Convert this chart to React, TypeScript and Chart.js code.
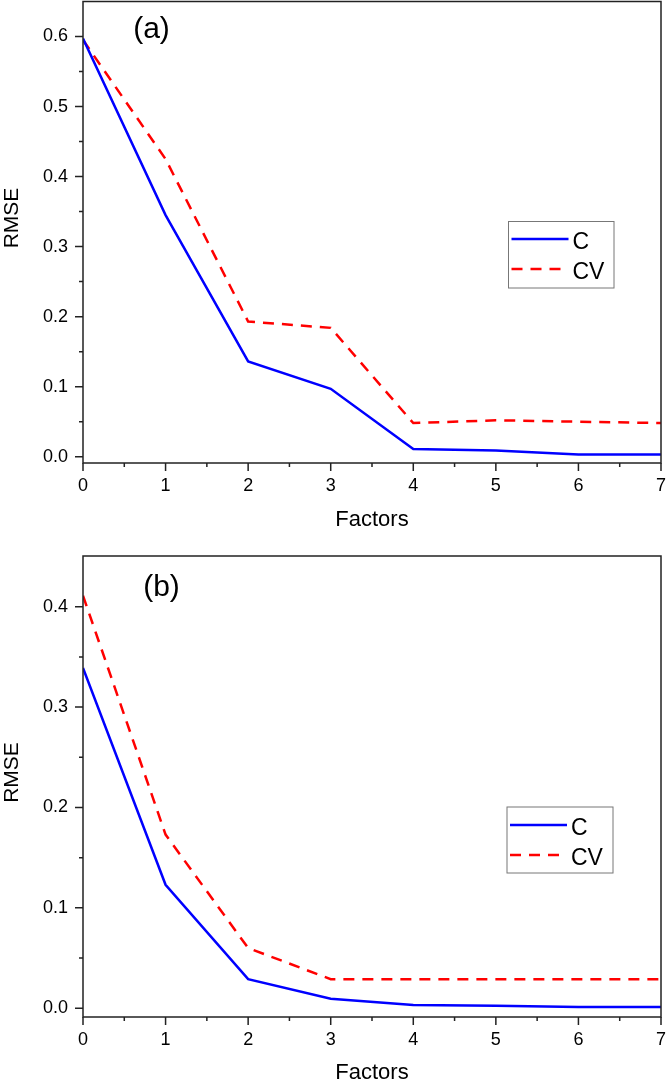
import React, { useEffect, useRef } from 'react';
import { Chart, registerables } from 'chart.js';

Chart.register(...registerables);

// ---------- data ----------
const factors = [0, 1, 2, 3, 4, 5, 6, 7];
const seriesNames = ['C', 'CV'];

const cA = [0.597, 0.345, 0.136, 0.097, 0.011, 0.009, 0.003, 0.003];
const cvA = [0.595, 0.425, 0.193, 0.184, 0.048, 0.052, 0.05, 0.048];

const cB = [0.339, 0.123, 0.029, 0.0095, 0.0033, 0.0026, 0.0013, 0.0013];
const cvB = [0.411, 0.173, 0.06, 0.029, 0.029, 0.029, 0.029, 0.029];

const xTickValues = [0, 1, 2, 3, 4, 5, 6, 7];
const xTickLabels = ['0', '1', '2', '3', '4', '5', '6', '7'];
const yTickValuesA = [0, 0.1, 0.2, 0.3, 0.4, 0.5, 0.6];
const yTickLabelsA = ['0.0', '0.1', '0.2', '0.3', '0.4', '0.5', '0.6'];
const yTickValuesB = [0, 0.1, 0.2, 0.3, 0.4];
const yTickLabelsB = ['0.0', '0.1', '0.2', '0.3', '0.4'];

const xTitle = 'Factors';
const yTitle = 'RMSE';
const panelLabels = ['(a)', '(b)'];

// ---------- layout / style ----------
const FONT = '"Liberation Sans", Arial, Helvetica, sans-serif';
const BLUE = '#0000FF';
const RED = '#FF0000';
const AXIS = '#222222';

type Panel = {
  label: string;
  c: number[];
  cv: number[];
  yVals: number[];
  yLabels: string[];
  yMin: number;
  yMax: number;
  canvasH: number;
  padTop: number;
  areaBottom: number;
  xTitleBaseline: number;
  yTitleCenter: number;
  labelX: number;
  labelBaseline: number;
  legend: { x0: number; y0: number; x1: number; y1: number; row1: number; row2: number };
};

const panels: Panel[] = [
  {
    label: panelLabels[0],
    c: cA,
    cv: cvA,
    yVals: yTickValuesA,
    yLabels: yTickLabelsA,
    yMin: -0.009,
    yMax: 0.65,
    canvasH: 540,
    padTop: 1.5,
    areaBottom: 463,
    xTitleBaseline: 526,
    yTitleCenter: 218,
    labelX: 151.5,
    labelBaseline: 38,
    legend: { x0: 508.5, y0: 221.5, x1: 614, y1: 288, row1: 239, row2: 269 },
  },
  {
    label: panelLabels[1],
    c: cB,
    cv: cvB,
    yVals: yTickValuesB,
    yLabels: yTickLabelsB,
    yMin: -0.0087,
    yMax: 0.4505,
    canvasH: 542,
    padTop: 16,
    areaBottom: 477,
    xTitleBaseline: 539,
    yTitleCenter: 232.5,
    labelX: 161.5,
    labelBaseline: 56,
    legend: { x0: 507, y0: 267, x1: 613, y1: 333, row1: 285, row2: 315 },
  },
];

function midpoints(vals: number[]): number[] {
  const out: number[] = [];
  for (let i = 0; i < vals.length - 1; i++) out.push((vals[i] + vals[i + 1]) / 2);
  return out;
}

function makeFramePlugin(p: Panel) {
  return {
    id: 'frame',
    afterDraw(chart: any) {
      const { ctx, chartArea: a, scales } = chart;
      const x = scales.x;
      const y = scales.y;
      ctx.save();
      // frame box
      ctx.strokeStyle = AXIS;
      ctx.lineWidth = 1.5;
      ctx.strokeRect(a.left, a.top, a.right - a.left, a.bottom - a.top);
      // ticks
      ctx.beginPath();
      p.yVals.forEach((v) => {
        const py = y.getPixelForValue(v);
        ctx.moveTo(a.left - 8, py);
        ctx.lineTo(a.left, py);
      });
      midpoints(p.yVals).forEach((v) => {
        const py = y.getPixelForValue(v);
        ctx.moveTo(a.left - 4, py);
        ctx.lineTo(a.left, py);
      });
      xTickValues.forEach((v) => {
        const px = x.getPixelForValue(v);
        ctx.moveTo(px, a.bottom);
        ctx.lineTo(px, a.bottom + 8);
      });
      midpoints(xTickValues).forEach((v) => {
        const px = x.getPixelForValue(v);
        ctx.moveTo(px, a.bottom);
        ctx.lineTo(px, a.bottom + 4);
      });
      ctx.stroke();

      ctx.fillStyle = '#000';
      // x title
      ctx.font = `22px ${FONT}`;
      ctx.textAlign = 'center';
      ctx.textBaseline = 'alphabetic';
      ctx.fillText(xTitle, (a.left + a.right) / 2, p.xTitleBaseline);
      // y title
      ctx.save();
      ctx.translate(17.5, p.yTitleCenter);
      ctx.rotate(-Math.PI / 2);
      ctx.font = `21px ${FONT}`;
      ctx.fillText(yTitle, 0, 0);
      ctx.restore();
      // panel label
      ctx.font = `30px ${FONT}`;
      ctx.fillText(p.label, p.labelX, p.labelBaseline);

      // legend
      const L = p.legend;
      ctx.strokeStyle = '#777';
      ctx.lineWidth = 1;
      ctx.strokeRect(L.x0, L.y0, L.x1 - L.x0, L.y1 - L.y0);
      const rows = [L.row1, L.row2];
      chart.data.datasets.forEach((ds: any, i: number) => {
        const ry = rows[i];
        ctx.save();
        ctx.strokeStyle = ds.borderColor;
        ctx.lineWidth = ds.borderWidth;
        ctx.setLineDash(ds.borderDash || []);
        ctx.beginPath();
        ctx.moveTo(L.x0 + 3, ry);
        ctx.lineTo(L.x0 + 60, ry);
        ctx.stroke();
        ctx.restore();
        ctx.font = `23px ${FONT}`;
        ctx.textAlign = 'left';
        ctx.fillText(ds.label, L.x0 + 64, ry + 9.5);
      });
      ctx.restore();
    },
  };
}

function PanelChart({ p }: { p: Panel }) {
  const ref = useRef<HTMLCanvasElement | null>(null);
  useEffect(() => {
    if (!ref.current) return;
    const xHeight = p.canvasH - p.areaBottom;
    const chart = new Chart(ref.current, {
      type: 'line',
      data: {
        labels: factors,
        datasets: [
          {
            label: seriesNames[0],
            data: factors.map((f, i) => ({ x: f, y: p.c[i] })),
            borderColor: BLUE,
            backgroundColor: BLUE,
            borderWidth: 2.5,
            pointRadius: 0,
            tension: 0,
            fill: false,
          },
          {
            label: seriesNames[1],
            data: factors.map((f, i) => ({ x: f, y: p.cv[i] })),
            borderColor: RED,
            backgroundColor: RED,
            borderWidth: 2.5,
            borderDash: [11, 8],
            pointRadius: 0,
            tension: 0,
            fill: false,
          },
        ],
      },
      options: {
        responsive: false,
        animation: false,
        devicePixelRatio: 1,
        layout: { padding: { top: p.padTop, right: 5, left: 0, bottom: 0 } },
        plugins: { legend: { display: false }, tooltip: { enabled: false }, title: { display: false } },
        scales: {
          x: {
            type: 'linear',
            min: 0,
            max: 7,
            grid: { display: false, drawTicks: false },
            border: { display: false },
            afterBuildTicks: (s: any) => {
              const vals = [...xTickValues, ...midpoints(xTickValues)].sort((a, b) => a - b);
              s.ticks = vals.map((v) => ({ value: v }));
            },
            afterFit: (s: any) => {
              s.height = xHeight;
              s.paddingLeft = 0;
              s.paddingRight = 0;
            },
            ticks: {
              autoSkip: false,
              maxRotation: 0,
              minRotation: 0,
              padding: 12,
              color: '#000',
              font: { family: FONT, size: 18 },
              callback: (v: any) => {
                const i = xTickValues.findIndex((t) => Math.abs(t - Number(v)) < 1e-6);
                return i >= 0 ? xTickLabels[i] : '';
              },
            },
          },
          y: {
            type: 'linear',
            min: p.yMin,
            max: p.yMax,
            grid: { display: false, drawTicks: false },
            border: { display: false },
            afterBuildTicks: (s: any) => {
              const vals = [...p.yVals, ...midpoints(p.yVals)].sort((a, b) => a - b);
              s.ticks = vals.map((v) => ({ value: v }));
            },
            afterFit: (s: any) => {
              s.width = 83;
              s.paddingTop = 0;
              s.paddingBottom = 0;
            },
            ticks: {
              autoSkip: false,
              padding: 15,
              color: '#000',
              font: { family: FONT, size: 18 },
              callback: (v: any) => {
                const i = p.yVals.findIndex((t) => Math.abs(t - Number(v)) < 1e-6);
                return i >= 0 ? p.yLabels[i] : '';
              },
            },
          },
        },
      },
      plugins: [makeFramePlugin(p)],
    } as any);
    return () => chart.destroy();
  }, [p]);
  return <canvas ref={ref} width={666} height={p.canvasH} style={{ display: 'block', width: 666, height: p.canvasH }} />;
}

export default function App() {
  return (
    <div style={{ position: 'absolute', left: 0, top: 0, width: 666, height: 1082, background: '#fff' }}>
      {panels.map((p) => (
        <PanelChart key={p.label} p={p} />
      ))}
    </div>
  );
}
